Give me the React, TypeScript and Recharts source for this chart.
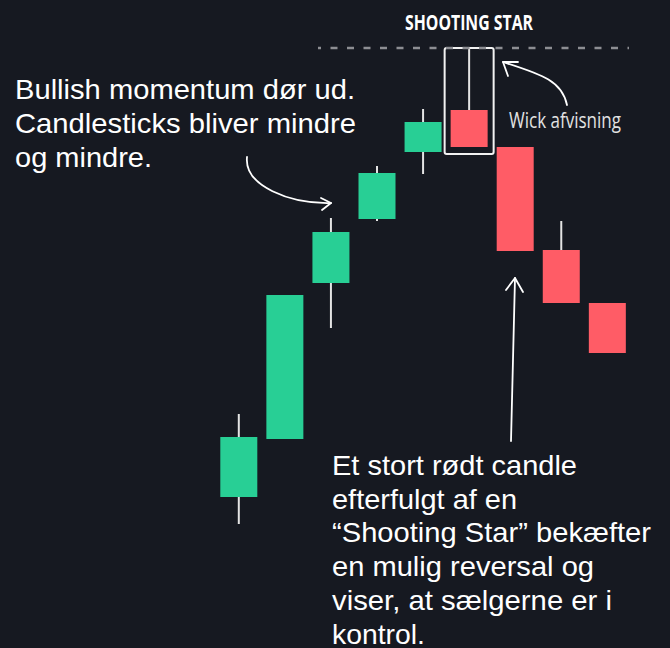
import { ComposedChart, Bar, XAxis, YAxis, ReferenceLine } from "recharts";

// candle data (price units)
const days = ["1", "2", "3", "4", "5", "6", "7", "8", "9"];
const opens = [15.1, 20.9, 36.5, 42.9, 49.6, 53.8, 50.1, 39.8, 34.5];
const closes = [21.1, 35.3, 41.6, 47.5, 52.6, 50.1, 39.7, 34.5, 29.5];
const highs = [23.4, 35.3, 43.0, 48.2, 53.9, 60.0, 50.1, 42.7, 34.5];
const lows = [12.4, 20.9, 32.0, 42.7, 47.4, 50.1, 39.7, 34.5, 29.5];
const starIndex = 5;

const leftNote = ["Bullish momentum dør ud.", "Candlesticks bliver mindre", "og mindre."];
const leftWidths = [340, 341, 137];
const bottomNote = [
  "Et stort rødt candle",
  "efterfulgt af en",
  "\u201cShooting Star\u201d bekæfter",
  "en mulig reversal og",
  "viser, at sælgerne er i",
  "kontrol.",
];
const bottomWidths = [245, 185, 319, 262, 280, 93];

const BG = "#161921";
const GREEN = "#28cf95";
const RED = "#ff5c66";
const WICK = "#e4e4e4";

const data = days.map((d, i) => ({
  day: d,
  open: opens[i],
  close: closes[i],
  high: highs[i],
  low: lows[i],
  star: i === starIndex,
}));

const Candle = (props: any) => {
  const { x, y, width, height, payload } = props;
  const top = Math.min(y, y + height);
  const bottom = Math.max(y, y + height);
  const px = (bottom - top) / (payload.high - payload.low);
  const toY = (v: number) => top + (payload.high - v) * px;
  const up = payload.close >= payload.open;
  const bodyTop = toY(Math.max(payload.open, payload.close));
  const bodyBot = toY(Math.min(payload.open, payload.close));
  const cx = x + width / 2;
  return (
    <g>
      <line x1={cx} x2={cx} y1={top} y2={bottom} stroke={WICK} strokeWidth={2} />
      <rect x={x} y={bodyTop} width={width} height={bodyBot - bodyTop} fill={up ? GREEN : RED} />
      {payload.star && (
        <rect
          x={x - 6}
          y={top}
          width={width + 12}
          height={bodyBot + 7 - top}
          rx={2}
          fill="none"
          stroke="#f2f2f2"
          strokeWidth={2}
        />
      )}
    </g>
  );
};

export default function App() {
  return (
    <div style={{ position: "absolute", left: 0, top: 0, width: 670, height: 648, background: BG }}>
      <ComposedChart
        width={670}
        height={648}
        data={data}
        margin={{ top: 0, right: 40.1, left: 215.3, bottom: 0 }}
      >
        <XAxis dataKey="day" hide />
        <YAxis hide domain={[0, 64.8]} />
        <ReferenceLine
          y={highs[starIndex]}
          shape={(p: any) => (
            <line
              x1={318}
              x2={629}
              y1={p.y1}
              y2={p.y2}
              stroke="#8d8e93"
              strokeWidth={2.5}
              strokeDasharray="7 9.5"
              strokeDashoffset={4}
            />
          )}
        />
        <Bar
          dataKey={(d: any) => [d.low, d.high]}
          barSize={37}
          shape={Candle}
          isAnimationActive={false}
        />
      </ComposedChart>

      <svg
        width={670}
        height={648}
        style={{ position: "absolute", left: 0, top: 0, pointerEvents: "none" }}
      >
        <text
          x={405}
          y={30}
          fill="#ffffff"
          fontFamily="Open Sans"
          fontWeight={700}
          fontSize={21}
          textLength={128}
          lengthAdjust="spacingAndGlyphs"
        >
          SHOOTING STAR
        </text>
        <text
          x={509}
          y={128}
          fill="#e2e2e2"
          fontFamily="Open Sans"
          fontSize={21}
          textLength={112}
          lengthAdjust="spacingAndGlyphs"
        >
          Wick afvisning
        </text>

        {leftNote.map((t, i) => (
          <text
            key={t}
            x={15}
            y={99.3 + i * 34}
            fill="#ffffff"
            fontFamily="Liberation Sans, Arial, sans-serif"
            fontSize={28}
            textLength={leftWidths[i]}
            lengthAdjust="spacingAndGlyphs"
          >
            {t}
          </text>
        ))}
        {bottomNote.map((t, i) => (
          <text
            key={t}
            x={332}
            y={475 + i * 33.7}
            fill="#ffffff"
            fontFamily="Liberation Sans, Arial, sans-serif"
            fontSize={28}
            textLength={bottomWidths[i]}
            lengthAdjust="spacingAndGlyphs"
          >
            {t}
          </text>
        ))}

        <g fill="none" stroke="#ffffff" strokeWidth={1.8} strokeLinecap="round" strokeLinejoin="round">
          {/* momentum arrow */}
          <path d="M247,157 C244,186 290,204 331,203" />
          <path d="M321,198 L331,203 L322,210" />
          {/* wick arrow */}
          <path d="M567,105 C562,80 540,74 503,62" />
          <path d="M518,62 L503,62 L508,76" />
          {/* red candle arrow */}
          <path d="M511,441 L515,278" />
          <path d="M506,290 L515,278 L523,292" />
        </g>
      </svg>
    </div>
  );
}
